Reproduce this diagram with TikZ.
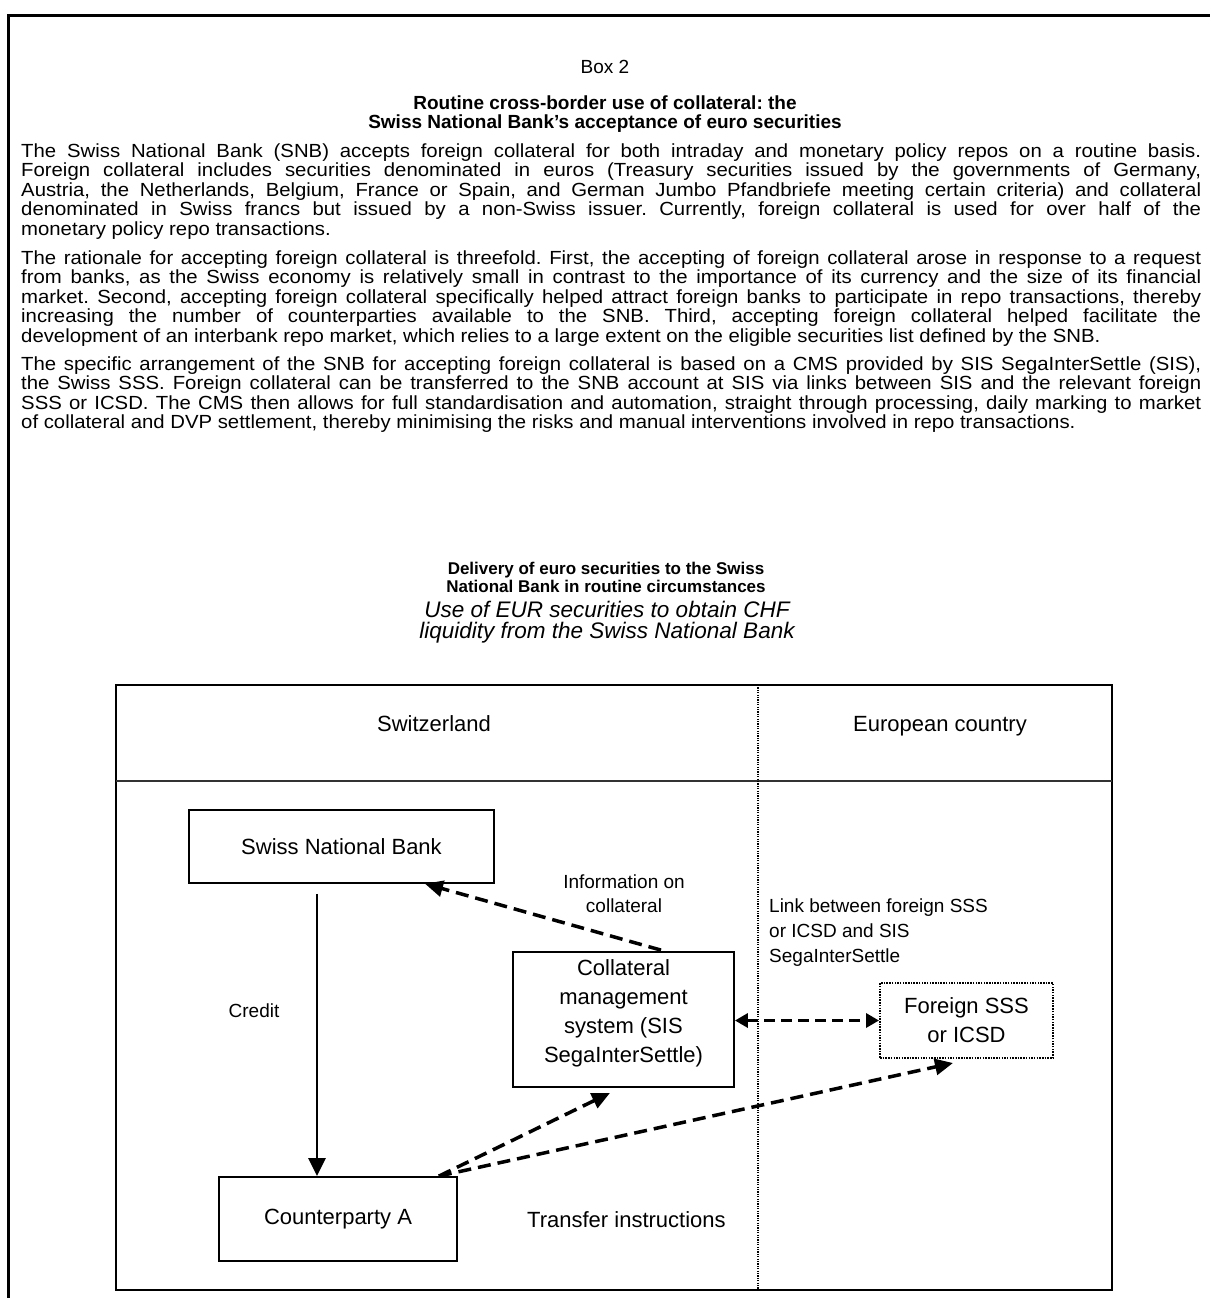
\documentclass[tikz,border=0pt]{standalone}
\usepackage{fontspec}
\setmainfont{Liberation Sans}
\newfontfamily\bodyfont{Liberation Sans}[FakeStretch=1.07]
\usetikzlibrary{arrows.meta,calc}
\frenchspacing
\begin{document}
\begin{tikzpicture}[x=1pt,y=-1pt,
  bodytxt/.style={inner sep=0pt, anchor=base west, font=\bodyfont\frenchspacing\fontsize{19pt}{19.5pt}\selectfont},
  centtxt/.style={inner sep=0pt, anchor=base, font=\fontsize{19pt}{19pt}\selectfont},
  titletxt/.style={inner sep=0pt, anchor=base, font=\bfseries\fontsize{19pt}{19pt}\selectfont},
  dtitletxt/.style={inner sep=0pt, anchor=base, font=\bfseries\fontsize{17pt}{18pt}\selectfont},
  dsubtxt/.style={inner sep=0pt, anchor=base, font=\itshape\fontsize{22.5pt}{22pt}\selectfont},
  celltxt/.style={inner sep=0pt, anchor=base, font=\fontsize{22pt}{29pt}\selectfont},
  labtxt/.style={inner sep=0pt, font=\fontsize{19pt}{24pt}\selectfont},
  entity/.style={draw, line width=1.8pt, inner sep=0pt, align=center, font=\fontsize{22pt}{29pt}\selectfont},
  dottedbox/.style={entity, line width=2pt, dash pattern=on 1.5pt off 1.2pt},
  creditarrow/.style={line width=2.8pt, -{Triangle[length=18pt,width=17pt]}},
  dasharrow/.style={line width=3.5pt, dash pattern=on 13pt off 7pt, -{Triangle[length=18pt,width=16pt]}},
  dblarrow/.style={line width=3.5pt, dash pattern=on 11pt off 6pt, {Triangle[length=13pt,width=14pt]}-{Triangle[length=13pt,width=14pt]}}
]
\useasboundingbox (0,0) rectangle (1210,1298);
\fill[white] (0,0) rectangle (1210,1298);

% page frame (open at right and bottom)
\draw[line width=3pt] (8,1298) -- (8,16) -- (1210,16);

% heading
\node[centtxt] (boxno) at (605,74) {Box 2};
\node[titletxt] (t1) at (605,109) {Routine cross-border use of collateral: the};
\node[titletxt] (t2) at (605,128) {Swiss National Bank’s acceptance of euro securities};

% paragraph 1
\node[bodytxt] (p1a) at (21,157) {\makebox[1180pt][s]{The Swiss National Bank (SNB) accepts foreign collateral for both intraday and monetary policy repos on a routine basis.}};
\node[bodytxt] (p1b) at (21,176.5) {\makebox[1180pt][s]{Foreign collateral includes securities denominated in euros (Treasury securities issued by the governments of Germany,}};
\node[bodytxt] (p1c) at (21,196) {\makebox[1180pt][s]{Austria, the Netherlands, Belgium, France or Spain, and German Jumbo Pfandbriefe meeting certain criteria) and collateral}};
\node[bodytxt] (p1d) at (21,215.5) {\makebox[1180pt][s]{denominated in Swiss francs but issued by a non-Swiss issuer. Currently, foreign collateral is used for over half of the}};
\node[bodytxt] (p1e) at (21,235) {monetary policy repo transactions.};

% paragraph 2
\node[bodytxt] (p2a) at (21,264) {\makebox[1180pt][s]{The rationale for accepting foreign collateral is threefold. First, the accepting of foreign collateral arose in response to a request}};
\node[bodytxt] (p2b) at (21,283.5) {\makebox[1180pt][s]{from banks, as the Swiss economy is relatively small in contrast to the importance of its currency and the size of its financial}};
\node[bodytxt] (p2c) at (21,303) {\makebox[1180pt][s]{market. Second, accepting foreign collateral specifically helped attract foreign banks to participate in repo transactions, thereby}};
\node[bodytxt] (p2d) at (21,322.5) {\makebox[1180pt][s]{increasing the number of counterparties available to the SNB. Third, accepting foreign collateral helped facilitate the}};
\node[bodytxt] (p2e) at (21,342) {development of an interbank repo market, which relies to a large extent on the eligible securities list defined by the SNB.};

% paragraph 3
\node[bodytxt] (p3a) at (21,370) {\makebox[1180pt][s]{The specific arrangement of the SNB for accepting foreign collateral is based on a CMS provided by SIS SegaInterSettle (SIS),}};
\node[bodytxt] (p3b) at (21,389.5) {\makebox[1180pt][s]{the Swiss SSS. Foreign collateral can be transferred to the SNB account at SIS via links between SIS and the relevant foreign}};
\node[bodytxt] (p3c) at (21,409) {\makebox[1180pt][s]{SSS or ICSD. The CMS then allows for full standardisation and automation, straight through processing, daily marking to market}};
\node[bodytxt] (p3d) at (21,428.5) {of collateral and DVP settlement, thereby minimising the risks and manual interventions involved in repo transactions.};

% diagram title
\node[dtitletxt] (d1) at (606,574) {Delivery of euro securities to the Swiss};
\node[dtitletxt] (d2) at (606,592) {National Bank in routine circumstances};
\node[dsubtxt] (s1) at (607,617) {Use of EUR securities to obtain CHF};
\node[dsubtxt] (s2) at (607,638) {liquidity from the Swiss National Bank};

% diagram frame
\draw[line width=2pt] (116,685) rectangle (1112,1290);
\draw[line width=1.4pt, black!80] (116,781) -- (1112,781);
\draw[line width=1.1pt, dash pattern=on 1.2pt off 1.2pt] (758,685) -- (758,1290);

\node[celltxt] (ch) at (434,731) {Switzerland};
\node[celltxt] (eu) at (940,731) {European country};

% entities
\node[entity, line width=1.5pt, minimum width=305pt, minimum height=73pt] (snb) at (341.5,846.5) {Swiss National Bank};
\node[entity, minimum width=221pt, minimum height=135pt] (cms) at (623.5,1019.5) {Collateral\\management\\system (SIS\\SegaInterSettle)\rule[-17pt]{0pt}{17pt}};
\node[dottedbox, minimum width=173pt, minimum height=75pt] (fsss) at (966.5,1020.5) {Foreign SSS\\or ICSD};
\node[entity, minimum width=238pt, minimum height=84pt] (cpa) at (338,1219) {Counterparty A};

% labels
\node[labtxt, anchor=base] (credit) at (254,1017) {Credit};
\node[labtxt, anchor=base] (info1) at (624,888) {Information on};
\node[labtxt, anchor=base] (info2) at (624,912) {collateral};
\node[labtxt, anchor=base west] (link1) at (769,912) {Link between foreign SSS};
\node[labtxt, anchor=base west] (link2) at (769,937) {or ICSD and SIS};
\node[labtxt, anchor=base west] (link3) at (769,962) {SegaInterSettle};
\node[celltxt, anchor=base west] (transfer) at (527,1227) {Transfer instructions};

% connectors
\draw[creditarrow] ($(snb.south)+(-24.5,10)$) coordinate (c1) -- (c1 |- cpa.north);
\draw[dasharrow] ($(cms.north)+(37.5,-1)$) -- ($(snb.south)+(83.5,0)$);
\coordinate (tstart) at ($(cpa.north east)+(-19,0)$);
\draw[dasharrow] (tstart) -- ($(cms.south)+(-13.5,5)$);
\draw[dasharrow] (tstart) -- ($(fsss.south)+(-13.5,4)$);
\draw[dblarrow] (fsss.west -| cms.east) -- (fsss.west);
\end{tikzpicture}
\end{document}
